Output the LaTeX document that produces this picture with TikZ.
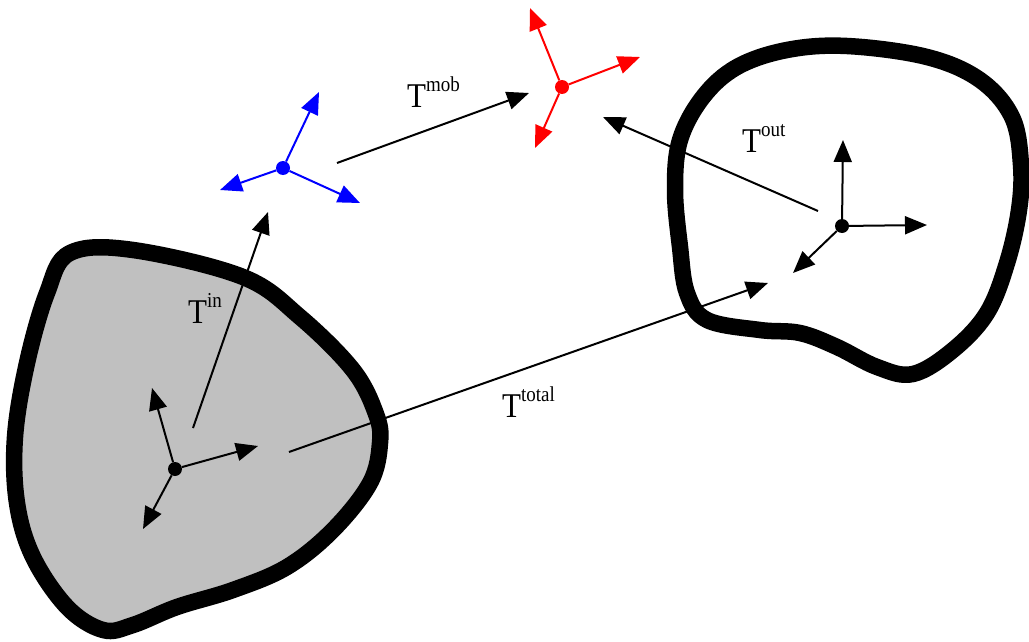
\documentclass[tikz,border=0pt]{standalone}
\usepackage{fontspec}
\setmainfont{Liberation Serif}
\usetikzlibrary{arrows.meta}
\tikzset{
  body/.style={line width=16.5pt, line join=round},
  axis/.style={line width=2pt, -{Triangle[length=22pt,width=18pt]}},
  conn/.style={line width=2pt, -{Triangle[length=22pt,width=18pt]}},
  origin/.style={circle, fill, inner sep=0pt, minimum size=14pt},
  lbl/.style={anchor=base west, inner sep=0pt, font=\fontsize{31}{31}\selectfont},
}
\newcommand{\Tsup}[1]{\scalebox{1}[1.12]{T\raisebox{14pt}{\fontsize{19}{19}\selectfont #1}}}
\begin{document}
\begin{tikzpicture}[x=1pt,y=-1pt]
\useasboundingbox (0,0) rectangle (1029,642);
% bodies
\draw[body, fill={rgb,255:red,192;green,192;blue,192}] plot[smooth cycle, tension=0.6] coordinates {
 (70,253) (133,250) (243,277) (300,317) (353,370) (376,414) (380,443) (370,483)
 (333,530) (287,567) (233,590) (177,607) (133,625) (103,630) (67,607) (33,557)
 (17,503) (15,437) (27,363) (47,293)};
\draw[body, fill=white] plot[smooth cycle, tension=0.6] coordinates {
 (787,50) (847,46) (927,57) (980,80) (1012,117) (1021,165) (1019,210) (1007,263)
 (987,313) (953,350) (913,374) (877,367) (837,347) (800,333) (760,330) (707,320)
 (687,293) (680,247) (675,190) (680,140) (703,97) (737,67)};
% frames
\node[origin] (o1) at (175,469) {};
\coordinate (o1u) at (152,388);
\coordinate (o1r) at (258,446);
\coordinate (o1d) at (143,529);
\draw[axis] (o1) -- (o1u);
\draw[axis] (o1) -- (o1r);
\draw[axis] (o1) -- (o1d);
\node[origin] (o2) at (842,226) {};
\coordinate (o2u) at (843,140);
\coordinate (o2r) at (927,225);
\coordinate (o2d) at (793,273);
\draw[axis] (o2) -- (o2u);
\draw[axis] (o2) -- (o2r);
\draw[axis] (o2) -- (o2d);
\begin{scope}[blue]
\node[origin] (ob) at (283,168) {};
\coordinate (obu) at (319,92);
\coordinate (obl) at (220,190);
\coordinate (obr) at (360,203);
\draw[axis] (ob) -- (obu);
\draw[axis] (ob) -- (obl);
\draw[axis] (ob) -- (obr);
\end{scope}
\begin{scope}[red]
\node[origin] (or) at (562,87) {};
\coordinate (oru) at (530,8);
\coordinate (orr) at (640,57);
\coordinate (ord) at (535,148);
\draw[axis] (or) -- (oru);
\draw[axis] (or) -- (orr);
\draw[axis] (or) -- (ord);
\end{scope}
% transformations
\coordinate (in0) at (193,428);
\coordinate (in1) at (268,212);
\coordinate (tot0) at (289,452);
\coordinate (tot1) at (768,283);
\coordinate (out0) at (818,211);
\coordinate (out1) at (603,117);
\coordinate (mob0) at (337,163);
\coordinate (mob1) at (529,93);
\draw[conn] (in0) -- (in1);
\draw[conn] (tot0) -- (tot1);
\draw[conn] (out0) -- (out1);
\draw[conn] (mob0) -- (mob1);
\node[lbl] (lin) at (188,323) {\Tsup{in}};
\node[lbl] (ltot) at (502,417) {\Tsup{total}};
\node[lbl] (lout) at (742,152) {\Tsup{out}};
\node[lbl] (lmob) at (407,107) {\Tsup{mob}};
\end{tikzpicture}
\end{document}
